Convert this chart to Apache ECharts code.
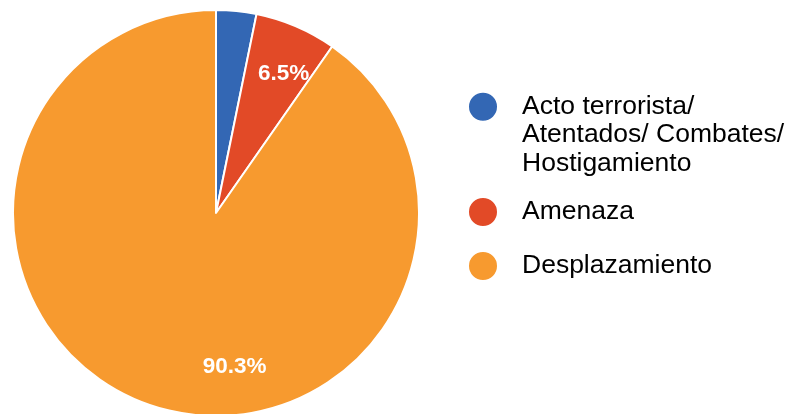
<!DOCTYPE html>
<html>
<head>
<meta charset="utf-8">
<script src="https://cdn.jsdelivr.net/npm/echarts@6/dist/echarts.min.js"></script>
<style>
  html, body { margin: 0; padding: 0; background: #fff; }
  #container { width: 785px; height: 414px; }
</style>
</head>
<body>
<div id="container"></div>
<script>
  // datos del gráfico (porcentajes)
  const categories = ['Acto terrorista/\nAtentados/ Combates/\nHostigamiento', 'Amenaza', 'Desplazamiento']
  const values = [3.2, 6.5, 90.3]
  const colors = ['#3367b4', '#e24a27', '#f79a2f']

  const font = 'Liberation Sans, Arial, sans-serif'
  const pieData = categories.map((name, i) => ({ name: name, value: values[i] }))
  const legendText = { fontFamily: font, fontSize: 26.5, lineHeight: 28.3, color: '#000', padding: [0, 0, 0, 19] }

  const myChart = echarts.init(document.getElementById('container'))
  const option = {
    animation: false,
    color: colors,
    legend: [
      {
        // primer elemento: dos líneas vacías delante para alinear el icono con la primera línea
        data: [categories[0]],
        formatter: name => '\n\n' + name,
        orient: 'vertical',
        left: 467,
        top: 36,
        padding: 0,
        icon: 'circle',
        itemWidth: 30,
        itemHeight: 30,
        selectedMode: false,
        textStyle: legendText
      },
      {
        data: [categories[1], categories[2]],
        orient: 'vertical',
        left: 467,
        top: 196,
        padding: 0,
        icon: 'circle',
        itemWidth: 30,
        itemHeight: 30,
        itemGap: 22,
        selectedMode: false,
        textStyle: legendText
      }
    ],
    series: [
      {
        type: 'pie',
        center: [216, 213],
        radius: 203,
        startAngle: 90,
        clockwise: true,
        label: { show: false },
        labelLine: { show: false },
        itemStyle: { borderColor: '#fff', borderWidth: 2 },
        data: pieData
      },
      {
        // anillo transparente sólo para colocar las etiquetas
        type: 'pie',
        center: [216, 213],
        radius: [114, 203],
        startAngle: 90,
        silent: true,
        itemStyle: { color: 'transparent' },
        label: {
          show: true,
          position: 'inside',
          color: '#fff',
          fontFamily: font,
          fontWeight: 'bold',
          fontSize: 22.5,
          formatter: p => (p.value < 5 ? '' : p.value.toFixed(1) + '%')
        },
        labelLayout: p => (p.dataIndex === 2 ? { dx: 67 } : { dx: 4, dy: 9 }),
        labelLine: { show: false },
        data: pieData
      }
    ]
  }
  option && myChart.setOption(option)
</script>
</body>
</html>
